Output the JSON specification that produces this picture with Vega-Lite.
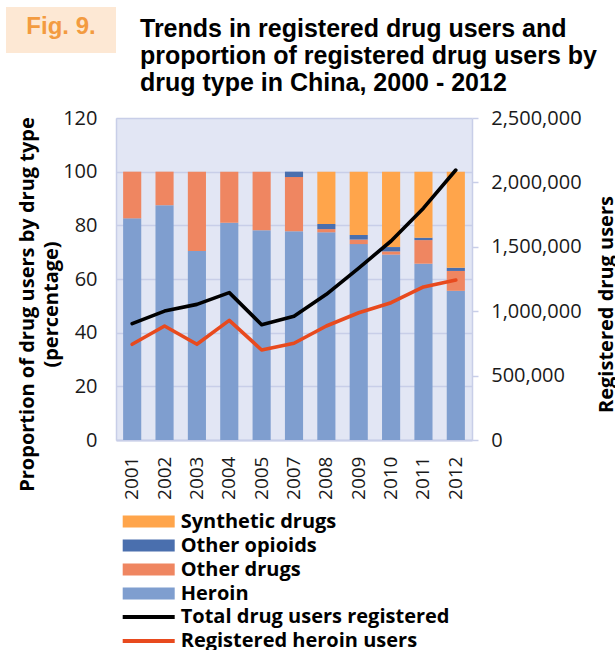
{
  "$schema": "https://vega.github.io/schema/vega-lite/v6.json",
  "padding": {"left": 6, "top": 7, "right": 0, "bottom": 0},
  "background": "white",
  "config": {
    "view": {"stroke": null},
    "font": "Open Sans",
    "axis": {"labelFont": "Open Sans", "titleFont": "Open Sans"},
    "legend": {"labelFont": "Open Sans"}
  },
  "datasets": {
    "bars": [
      {"year": "2001", "type": "Heroin", "pct": 82.6},
      {"year": "2001", "type": "Other drugs", "pct": 17.4},
      {"year": "2002", "type": "Heroin", "pct": 87.5},
      {"year": "2002", "type": "Other drugs", "pct": 12.5},
      {"year": "2003", "type": "Heroin", "pct": 70.4},
      {"year": "2003", "type": "Other drugs", "pct": 29.6},
      {"year": "2004", "type": "Heroin", "pct": 81.0},
      {"year": "2004", "type": "Other drugs", "pct": 19.0},
      {"year": "2005", "type": "Heroin", "pct": 78.2},
      {"year": "2005", "type": "Other drugs", "pct": 21.8},
      {"year": "2007", "type": "Heroin", "pct": 77.8},
      {"year": "2007", "type": "Other drugs", "pct": 20.2},
      {"year": "2007", "type": "Other opioids", "pct": 2.0},
      {"year": "2008", "type": "Heroin", "pct": 77.4},
      {"year": "2008", "type": "Other drugs", "pct": 1.2},
      {"year": "2008", "type": "Other opioids", "pct": 1.9},
      {"year": "2008", "type": "Synthetic drugs", "pct": 19.5},
      {"year": "2009", "type": "Heroin", "pct": 73.0},
      {"year": "2009", "type": "Other drugs", "pct": 1.7},
      {"year": "2009", "type": "Other opioids", "pct": 1.7},
      {"year": "2009", "type": "Synthetic drugs", "pct": 23.6},
      {"year": "2010", "type": "Heroin", "pct": 69.1},
      {"year": "2010", "type": "Other drugs", "pct": 1.2},
      {"year": "2010", "type": "Other opioids", "pct": 1.6},
      {"year": "2010", "type": "Synthetic drugs", "pct": 28.1},
      {"year": "2011", "type": "Heroin", "pct": 65.7},
      {"year": "2011", "type": "Other drugs", "pct": 8.8},
      {"year": "2011", "type": "Other opioids", "pct": 0.9},
      {"year": "2011", "type": "Synthetic drugs", "pct": 24.6},
      {"year": "2012", "type": "Heroin", "pct": 55.6},
      {"year": "2012", "type": "Other drugs", "pct": 7.4},
      {"year": "2012", "type": "Other opioids", "pct": 1.2},
      {"year": "2012", "type": "Synthetic drugs", "pct": 35.8}
    ],
    "lines": [
      {"year": "2001", "series": "Total drug users registered", "users": 903000},
      {"year": "2002", "series": "Total drug users registered", "users": 1001000},
      {"year": "2003", "series": "Total drug users registered", "users": 1053000},
      {"year": "2004", "series": "Total drug users registered", "users": 1144000},
      {"year": "2005", "series": "Total drug users registered", "users": 895000},
      {"year": "2007", "series": "Total drug users registered", "users": 960000},
      {"year": "2008", "series": "Total drug users registered", "users": 1131000},
      {"year": "2009", "series": "Total drug users registered", "users": 1335000},
      {"year": "2010", "series": "Total drug users registered", "users": 1545000},
      {"year": "2011", "series": "Total drug users registered", "users": 1800000},
      {"year": "2012", "series": "Total drug users registered", "users": 2096000},
      {"year": "2001", "series": "Registered heroin users", "users": 743000},
      {"year": "2002", "series": "Registered heroin users", "users": 885000},
      {"year": "2003", "series": "Registered heroin users", "users": 743000},
      {"year": "2004", "series": "Registered heroin users", "users": 929000},
      {"year": "2005", "series": "Registered heroin users", "users": 699000},
      {"year": "2007", "series": "Registered heroin users", "users": 751000},
      {"year": "2008", "series": "Registered heroin users", "users": 885000},
      {"year": "2009", "series": "Registered heroin users", "users": 988000},
      {"year": "2010", "series": "Registered heroin users", "users": 1066000},
      {"year": "2011", "series": "Registered heroin users", "users": 1188000},
      {"year": "2012", "series": "Registered heroin users", "users": 1242000}
    ]
  },
  "spacing": -113,
  "hconcat": [
    {
      "data": {"values": [{}]},
      "width": 110,
      "height": 46,
      "view": {"fill": "#FDE8D4", "stroke": null},
      "mark": {"type": "text", "text": "Fig. 9.", "font": "Liberation Sans", "fontSize": 24, "fontWeight": "bold", "color": "#F39B40", "align": "center", "baseline": "middle", "dx": 0, "dy": -3}
    },
    {
      "spacing": 12,
      "vconcat": [
        {
          "data": {"values": [{}]},
          "width": 1,
          "height": 1,
          "mark": {"type": "text", "text": "Trends in registered drug users and\nproportion of registered drug users by\ndrug type in China, 2000 - 2012", "lineBreak": "\n", "lineHeight": 27, "font": "Liberation Sans", "fontSize": 25, "fontWeight": "bold", "color": "#000000", "align": "left", "baseline": "alphabetic", "dx": 23.5, "dy": 29}
        },
        {
          "width": 356,
          "height": 322,
          "view": {"fill": "#E2E6F4", "stroke": null},
          "encoding": {
            "x": {
              "field": "year",
              "type": "ordinal",
              "scale": {"paddingInner": 0.44, "paddingOuter": 0.22},
              "axis": {
                "orient": "bottom",
                "labelAngle": 270,
                "labelFontSize": 19,
                "labelColor": "#1a1a1a",
                "labelPadding": 16,
                "ticks": false,
                "grid": false,
                "domain": true,
                "domainColor": "#C8CEE8",
                "domainWidth": 2,
                "title": null
              }
            }
          },
          "layer": [
            {
              "data": {"name": "bars"},
              "mark": {"type": "bar"},
              "encoding": {
                "y": {
                  "field": "pct",
                  "type": "quantitative",
                  "stack": "zero",
                  "scale": {"domain": [0, 120], "nice": false},
                  "axis": {
                    "orient": "left",
                    "values": [0, 20, 40, 60, 80, 100, 120],
                    "ticks": false,
                    "grid": true,
                    "gridColor": "#C8CEE8",
                    "gridWidth": 1.3,
                    "domain": true,
                    "domainColor": "#C8CEE8",
                    "domainWidth": 1.5,
                    "labelFontSize": 20,
                    "labelColor": "#1a1a1a",
                    "labelPadding": 19,
                    "title": ["Proportion of drug users by drug type", "(percentage)"],
                    "titleFontSize": 20,
                    "titleFontWeight": "bold",
                    "titleColor": "#000000",
                    "titleAngle": 270,
                    "titleX": -83,
                    "titleY": 186,
                    "titleAlign": "center",
                    "titleBaseline": "alphabetic",
                    "titleLineHeight": 24
                  }
                },
                "fill": {
                  "field": "type",
                  "type": "nominal",
                  "scale": {
                    "domain": ["Synthetic drugs", "Other opioids", "Other drugs", "Heroin"],
                    "range": ["#FFA54B", "#4A6FAE", "#EF8661", "#7F9ECF"]
                  },
                  "legend": {
                    "orient": "none",
                    "legendX": 132.7,
                    "legendY": 504.5,
                    "title": null,
                    "padding": 0,
                    "symbolType": "M-4,-0.92H4V0.92H-4Z",
                    "symbolSize": 169,
                    "symbolStrokeWidth": 0,
                    "labelFontSize": 20,
                    "labelFontWeight": "bold",
                    "labelColor": "#000000",
                    "labelOffset": 22,
                    "labelLimit": 500,
                    "rowPadding": 4
                  }
                },
                "order": {"field": "type", "sort": "ascending"}
              }
            },
            {
              "data": {"name": "lines"},
              "mark": {"type": "line", "strokeWidth": 3.6, "strokeCap": "round", "strokeJoin": "round"},
              "encoding": {
                "y": {
                  "field": "users",
                  "type": "quantitative",
                  "scale": {"domain": [0, 2500000], "nice": false},
                  "axis": {
                    "orient": "right",
                    "values": [0, 500000, 1000000, 1500000, 2000000, 2500000],
                    "labelExpr": "format(datum.value, ',')",
                    "ticks": true,
                    "tickSize": 6,
                    "tickColor": "#C8CEE8",
                    "tickWidth": 1.5,
                    "grid": false,
                    "domain": true,
                    "domainColor": "#C8CEE8",
                    "domainWidth": 1.5,
                    "labelFontSize": 20,
                    "labelColor": "#1a1a1a",
                    "labelPadding": 12.7,
                    "title": "Registered drug users",
                    "titleFontSize": 20,
                    "titleFontWeight": "bold",
                    "titleColor": "#000000",
                    "titleAngle": 270,
                    "titleX": 140,
                    "titleY": 186,
                    "titleAlign": "center",
                    "titleBaseline": "alphabetic"
                  }
                },
                "stroke": {
                  "field": "series",
                  "type": "nominal",
                  "scale": {
                    "domain": ["Total drug users registered", "Registered heroin users"],
                    "range": ["#000000", "#E84A1E"]
                  },
                  "legend": {
                    "orient": "none",
                    "legendX": 132.7,
                    "legendY": 600,
                    "title": null,
                    "padding": 0,
                    "symbolType": "M-4,0H4",
                    "symbolSize": 169,
                    "symbolStrokeWidth": 4,
                    "labelFontSize": 20,
                    "labelFontWeight": "bold",
                    "labelColor": "#000000",
                    "labelOffset": 22,
                    "labelLimit": 500,
                    "rowPadding": 4
                  }
                }
              }
            }
          ],
          "resolve": {"scale": {"y": "independent"}}
        }
      ]
    }
  ]
}
